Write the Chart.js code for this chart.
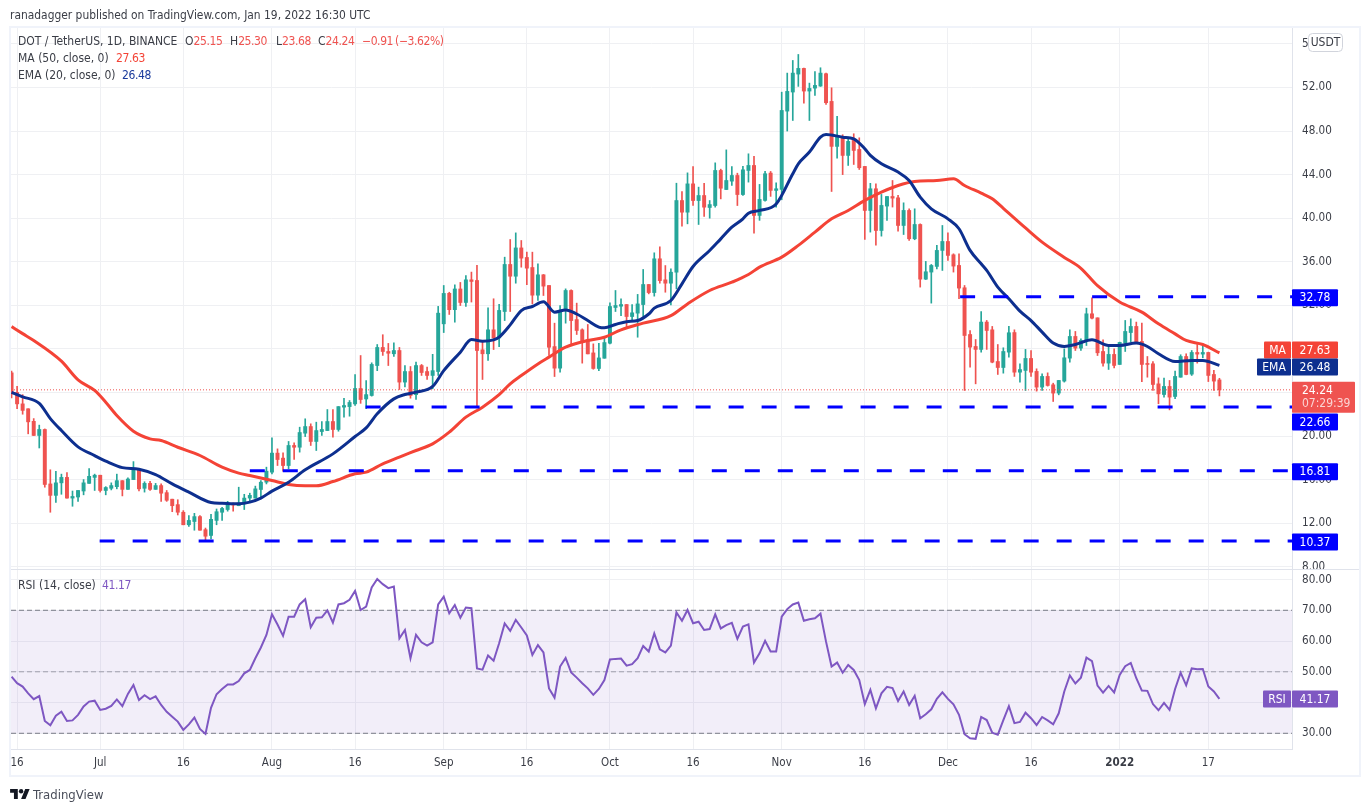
<!DOCTYPE html>
<html>
<head>
<meta charset="utf-8">
<title>DOT / TetherUS</title>
<script src="https://cdn.jsdelivr.net/npm/chart.js@4/dist/chart.umd.min.js"></script>
<style>
    html, body { margin: 0; padding: 0; background: #fff; }
    body { width: 1370px; height: 812px; position: relative; overflow: hidden; }
    body, .txt { font-family: "DejaVu Sans Condensed", "DejaVu Sans", sans-serif; font-size: 12px; color: #3a3d46; }
    canvas { position: absolute; left: 0; top: 0; }
    #frame { position: absolute; left: 9px; top: 26px; width: 1348px; height: 747px; border: 2px solid #f0f3fa; }
    .txt { position: absolute; white-space: nowrap; line-height: 16px; }
    .red { color: #ef5350; }
    .num { font-size: 12px; letter-spacing: -0.4px; }
    #logo { position: absolute; left: 10px; top: 789px; }
</style>
</head>
<body>
<div id="frame"></div>
<canvas id="chart" width="1370" height="812"></canvas>

<div class="txt" style="left:10px;top:7px;font-size:11.9px">ranadagger published on TradingView.com, Jan 19, 2022 16:30 UTC</div>
<div class="txt" style="left:18px;top:33px">DOT / TetherUS, 1D, BINANCE</div>
<div class="txt" style="left:185px;top:33px">O<span class="red num">25.15</span></div>
<div class="txt" style="left:230px;top:33px">H<span class="red num">25.30</span></div>
<div class="txt" style="left:276px;top:33px">L<span class="red num">23.68</span></div>
<div class="txt" style="left:318px;top:33px">C<span class="red num">24.24</span></div>
<div class="txt red num" style="left:362px;top:33px;word-spacing:-1px">−0.91 (−3.62%)</div>
<div class="txt" style="left:18px;top:50px">MA (50, close, 0)</div>
<div class="txt num" style="left:116px;top:50px;color:#f44336">27.63</div>
<div class="txt" style="left:18px;top:67px">EMA (20, close, 0)</div>
<div class="txt num" style="left:122px;top:67px;color:#1a3a9c">26.48</div>
<div class="txt" style="left:18px;top:577px">RSI (14, close)</div>
<div class="txt num" style="left:102px;top:577px;color:#7e57c2">41.17</div>

<svg id="logo" width="20" height="11" viewBox="0 0 36 20"><path d="M14 18H7V7H0V0h14v18zM28 18h-8l7.5-18h8L28 18z" fill="#131722"/><circle cx="20" cy="4" r="4" fill="#131722"/></svg>
<div class="txt" style="left:33px;top:787px;font-size:13px;color:#4a4e5a">TradingView</div>

<script>
// Candles, one per day from Jun 15 2021 to Jan 19 2022
const opens = [
    25.8,24.0,22.95,22.5,21.35,20.05,20.6,15.6,14.55,15.7,
    16.2,14.3,14.4,14.95,15.65,16.2,16.4,15.0,15.2,15.35,
    15.9,15.1,16.0,16.85,15.2,15.65,15.1,15.45,14.8,14.2,
    13.7,13.0,11.85,12.15,12.6,11.4,10.87,12.25,13.0,13.25,
    13.78,13.6,13.77,14.3,14.3,15.09,15.76,16.68,18.43,17.97,
    17.29,19.13,18.97,20.26,20.87,19.5,20.41,20.5,21.33,20.6,
    22.65,22.7,22.95,24.36,23.4,23.72,26.47,28.13,27.76,27.55,
    27.85,24.95,25.92,23.8,26.47,25.92,25.56,25.92,30.3,33.1,
    31.6,33.5,32.26,34.34,34.28,27.91,27.55,29.75,29.0,31.43,
    35.75,34.67,37.27,36.39,35.47,32.93,34.8,33.82,28.21,26.23,
    31.52,33.36,30.69,29.75,28.83,27.63,26.2,27.14,28.52,31.8,
    31.92,32.07,30.97,31.28,32.07,33.91,33.17,36.27,34.34,34.03,
    35.04,41.62,40.55,43.15,41.62,42.08,40.98,41.16,44.38,42.63,
    43.4,43.92,42.17,44.38,44.84,40.25,41.63,44.14,42.55,42.64,
    49.83,51.58,53.23,53.75,51.67,51.94,52.13,53.26,50.72,46.59,
    47.44,45.76,47.14,46.31,44.75,40.71,42.7,38.87,41.11,41.99,
    41.87,39.33,40.71,38.11,39.42,34.4,35.05,35.57,37.04,37.86,
    36.64,35.66,33.61,29.32,28.22,27.95,30.46,29.75,26.84,26.29,
    27.7,29.5,25.86,26.02,27.12,25.93,24.49,25.47,24.7,23.94,
    25.04,27.15,29.14,28.07,28.71,31.22,30.85,27.76,26.69,27.49,
    26.57,28.53,29.5,30.06,28.68,26.63,26.63,24.79,23.81,24.55,
    23.63,25.4,27.3,25.68,27.67,27.52,27.67,25.65,25.15
];
const closes = [
    23.87,22.95,22.35,21.3,20.05,20.6,15.55,14.55,15.7,16.2,
    14.3,14.45,15.0,15.7,16.3,16.4,15.0,15.27,15.45,15.9,
    15.1,16.05,16.9,15.15,15.65,15.1,15.45,14.75,14.1,13.6,
    13.0,11.85,12.25,12.6,11.35,10.8,12.35,13.05,13.35,13.7,
    13.67,13.85,14.3,14.55,15.15,15.76,16.77,18.43,17.84,17.29,
    19.13,18.97,20.32,20.87,19.5,20.5,20.6,21.33,20.6,22.7,
    22.8,23.08,24.36,23.35,23.8,26.57,28.13,27.76,27.6,27.85,
    24.95,25.92,23.72,26.47,25.83,25.56,26.0,31.28,33.09,31.6,
    33.5,32.26,34.34,34.19,27.85,27.55,29.75,29.0,31.53,35.75,
    34.67,37.27,36.33,35.41,32.93,34.8,33.76,28.15,26.23,31.52,
    33.36,30.6,29.69,28.61,27.54,26.2,27.17,28.58,31.89,31.98,
    32.07,30.97,31.31,32.13,33.91,33.17,36.27,34.27,34.03,35.04,
    41.62,40.55,43.15,41.62,42.08,41.01,41.25,44.38,42.75,43.46,
    43.92,42.17,44.44,44.84,40.25,41.72,44.08,42.55,42.7,49.89,
    51.64,53.32,53.75,51.67,51.91,52.19,53.32,50.6,46.59,47.6,
    45.76,47.05,46.22,44.63,40.71,42.7,38.87,41.17,41.99,41.84,
    39.33,40.71,38.11,39.42,34.4,35.08,35.66,37.04,37.86,36.58,
    35.6,33.58,29.23,28.16,27.95,30.46,29.69,26.78,26.29,27.76,
    29.48,25.86,26.1,27.12,25.86,24.49,25.47,24.64,23.94,25.1,
    27.18,29.14,28.07,28.77,31.22,30.82,27.64,26.69,27.49,26.48,
    28.59,29.6,30.06,28.62,26.57,26.57,24.73,23.87,24.55,23.57,
    25.47,27.3,25.65,27.67,27.52,27.67,25.56,25.04,24.24
];
const highs = [
    25.95,24.55,23.8,22.5,21.6,21.0,20.65,16.9,16.75,16.5,
    16.65,14.95,15.0,16.0,17.0,16.5,16.4,15.35,15.7,16.5,
    15.9,16.15,17.65,16.9,15.8,15.85,15.65,15.6,15.0,14.2,
    14.15,13.15,12.7,12.9,12.7,11.55,12.8,13.3,13.45,14.0,
    13.85,15.3,14.65,14.75,15.4,15.9,17.14,19.83,18.82,18.45,
    19.5,19.37,20.81,21.58,21.12,21.27,21.33,22.43,22.43,22.7,
    23.47,23.26,25.65,27.39,25.1,26.72,28.4,29.3,28.5,28.56,
    28.13,26.47,26.38,26.78,26.57,26.32,27.5,31.9,33.82,33.2,
    33.88,34.1,34.74,35.05,35.66,28.77,31.77,32.6,32.08,36.42,
    38.04,38.65,37.95,36.88,36.88,35.81,34.83,33.82,30.36,31.98,
    33.51,33.42,32.2,29.84,30.24,28.46,28.52,29.07,32.22,33.36,
    32.6,32.07,32.07,33.0,35.29,33.91,36.82,37.37,35.65,35.35,
    43.21,42.45,44.16,44.74,42.85,43.21,41.62,45.08,44.5,46.27,
    44.74,44.13,44.75,45.91,45.67,43.1,44.29,44.29,43.25,51.57,
    53.32,54.48,55.03,53.78,52.4,53.47,53.81,53.32,51.97,49.34,
    47.66,47.44,47.75,47.38,44.75,43.2,43.16,42.18,41.99,43.46,
    42.09,41.41,40.86,40.86,39.48,36.03,35.75,37.5,39.33,38.66,
    36.73,36.73,33.82,29.69,28.86,31.43,30.61,30.06,28.4,28.1,
    30.06,29.75,26.63,27.95,27.85,26.17,25.71,25.8,24.85,25.1,
    28.0,29.75,29.6,28.92,31.74,32.69,30.85,28.83,28.4,28.0,
    28.62,30.61,30.76,30.46,30.36,27.3,26.84,25.34,25.31,25.1,
    25.96,27.46,27.55,27.85,28.4,28.4,27.7,26.02,25.3
];
const lows = [
    23.5,22.5,22.0,20.2,20.05,18.9,15.3,13.0,13.9,14.65,
    14.3,13.55,14.0,14.6,15.65,15.0,14.85,14.6,15.05,15.15,
    14.5,15.1,16.0,14.95,14.85,15.0,15.1,14.0,14.0,13.05,
    12.75,11.85,11.7,11.35,11.35,10.37,10.55,11.85,12.25,13.1,
    13.1,13.6,13.25,13.95,14.3,14.4,15.6,16.53,17.29,16.77,
    16.99,17.84,18.52,19.95,19.13,18.67,20.05,20.5,19.9,20.44,
    21.73,21.82,22.8,23.0,22.5,23.66,26.0,27.4,26.47,27.3,
    24.27,24.5,23.47,23.35,25.56,25.19,24.33,25.56,29.5,31.16,
    30.45,31.98,31.9,32.3,22.59,25.19,26.93,27.94,28.2,30.6,
    31.43,34.03,35.5,33.9,32.13,32.44,32.9,27.39,25.46,25.86,
    30.36,28.3,29.32,26.69,27.54,26.13,26.01,27.14,28.46,31.43,
    31.06,29.99,30.66,29.07,30.97,33.05,32.84,34.03,33.2,32.04,
    33.51,39.27,39.48,41.16,39.42,40.15,40.0,41.01,41.77,42.63,
    43.0,41.16,42.09,43.31,38.63,39.8,41.57,42.0,41.02,41.69,
    48.0,48.97,52.1,50.57,48.97,51.27,52.1,50.44,42.45,45.51,
    44.0,44.84,44.93,44.47,38.05,38.72,37.53,38.35,39.79,41.02,
    38.81,38.5,37.95,38.02,33.67,34.37,32.2,35.35,35.2,36.12,
    35.05,32.6,24.18,26.32,24.79,27.7,27.95,26.72,25.65,25.77,
    27.24,25.47,24.95,24.18,25.47,24.12,24.18,24.58,23.17,23.78,
    24.95,26.78,27.85,27.85,28.31,30.76,27.39,26.42,26.11,26.26,
    26.57,27.76,28.62,28.53,25.0,25.4,24.18,22.96,23.57,22.4,
    23.42,25.4,25.62,25.56,26.69,27.18,25.0,24.18,23.68
];

// Moving averages, read at the day indexes next to them
const maDays = [0,2,4,9,12,15,17,19,22,25,27,30,34,38,41,43,47,50,53,55,58,62,64,67,70,73,76,79,82,85,88,90,92,95,97,100,104,107,110,114,119,122,126,130,133,135,139,142,145,148,151,154,157,160,163,167,170,172,175,177,179,183,186,190,193,196,200,204,207,210,212,215,218];
const maValues = [30.05,29.4,28.77,26.87,25.16,24.18,23.1,21.88,20.44,19.74,19.59,18.97,18.21,17.14,16.59,16.37,15.91,15.55,15.43,15.43,15.82,16.53,16.68,17.44,18.06,18.67,19.28,20.35,21.73,22.65,23.8,24.79,25.55,26.62,27.24,28.15,28.77,29.07,29.75,30.36,31.06,32.13,33.36,34.12,34.83,35.5,36.42,37.5,38.72,39.94,40.71,41.63,42.39,43.0,43.37,43.46,43.62,43.0,42.3,41.78,40.9,39.1,37.8,36.4,35.4,33.8,32.3,31.37,30.3,29.38,28.77,28.4,27.63];
const emaDays = [0,2,5,7,9,12,15,17,20,23,26,29,32,36,38,41,43,45,47,50,53,58,62,64,66,69,71,73,76,78,81,83,85,87,88,90,92,94,96,98,100,102,104,106,107,109,111,113,115,116,119,121,123,126,128,130,132,133,135,138,141,142,144,146,147,150,152,154,155,157,160,162,164,166,169,171,173,175,176,178,180,182,184,186,188,190,192,195,198,200,203,205,207,210,213,215,218];
const emaValues = [24.0,23.6,23.0,21.6,20.5,19.0,18.2,17.7,17.1,16.95,16.45,15.6,14.85,13.9,13.83,13.77,13.93,14.3,14.94,15.76,16.9,18.36,19.95,20.75,22.04,23.41,23.81,24.03,24.55,26.0,27.7,28.86,28.7,28.83,29.08,30.2,31.52,31.89,32.32,31.37,31.58,31.2,30.6,30.0,29.93,30.24,30.5,30.6,31.2,31.74,32.44,33.97,35.56,37.03,38.1,39.17,39.94,40.46,40.71,41.3,44.08,44.99,46.07,47.44,47.69,47.44,47.29,46.37,45.76,44.99,44.23,43.46,41.93,40.86,39.94,39.03,37.04,35.81,35.2,33.67,32.6,31.47,30.6,29.54,28.53,28.22,28.4,28.83,28.31,28.31,28.53,28.22,27.55,26.84,26.94,26.94,26.48];

// RSI (14, close), one value per day
const rsiValues = [
    48.4,46.3,45.2,43.0,41.1,42.1,34.0,32.6,35.7,37.0,
    34.0,34.2,36.0,38.7,40.3,40.6,37.6,38.0,38.9,41.0,
    38.8,42.8,45.7,40.8,42.4,41.1,42.0,39.2,37.0,35.4,
    33.8,31.1,32.9,35.1,31.4,29.8,38.3,42.7,44.4,45.9,
    45.9,47.0,49.5,50.6,54.4,57.9,62.0,68.7,65.4,61.7,
    67.9,67.9,71.9,73.6,64.5,67.6,67.7,70.0,66.0,71.9,
    72.3,73.4,76.3,70.1,71.2,77.4,80.2,78.5,77.2,77.7,
    60.9,63.6,54.4,62.0,59.6,58.5,59.6,71.9,74.4,69.0,
    71.7,67.6,70.9,70.7,51.1,50.7,55.3,53.6,59.3,65.7,
    63.3,66.9,64.4,61.8,55.5,58.7,56.3,44.6,41.6,51.7,
    54.5,49.8,48.1,46.3,44.6,42.5,44.4,47.3,54.0,54.2,
    54.3,52.0,52.5,54.4,58.4,56.6,62.5,57.3,56.3,58.5,
    69.3,66.6,70.1,65.8,66.3,63.6,63.9,68.7,64.1,65.2,
    65.9,60.7,64.7,65.4,53.0,56.0,60.1,56.6,56.6,67.9,
    70.4,71.9,72.5,66.6,67.1,67.4,68.9,59.8,51.7,53.0,
    49.7,52.2,50.6,47.3,39.5,44.1,38.1,43.0,45.1,44.7,
    40.5,43.6,39.2,42.2,34.9,36.2,37.8,41.2,43.3,41.2,
    39.4,36.0,29.7,28.4,28.2,35.3,34.3,30.2,29.5,34.3,
    38.8,33.3,33.7,36.7,34.9,32.7,35.3,34.2,32.9,36.5,
    43.6,48.8,46.2,48.1,54.6,53.5,45.5,43.2,45.4,43.3,
    49.0,51.8,52.9,47.9,43.9,43.8,39.5,37.5,39.9,37.6,
    44.4,49.7,45.6,51.1,50.8,50.9,45.2,43.6,41.17
];

// Horizontal support and resistance levels, with the day each one starts on
const levelValues = [32.78, 22.66, 16.81, 10.37];
const levelStarts = [171.2, 63.9, 43, 15.9];

// Axes
const tickDays = [1,16,31,47,62,78,93,108,123,139,154,169,184,200,216];
const tickLabels = ['16','Jul','16','Aug','16','Sep','16','Oct','16','Nov','16','Dec','16','2022','17'];
const priceTicks = [8,12,16,20,24,28,32,36,40,44,48,52,56];
const rsiTicks = [30,40,50,60,70,80];
const rsiGuides = [70, 50, 30];

const lastPrice = 24.24;
const lastMa = 27.63;
const lastEma = 26.48;
const lastRsi = 41.17;

const UP = '#26a69a';
const DOWN = '#ef5350';
const MA_COLOR = '#f44336';
const EMA_COLOR = '#0d2f8f';
const RSI_COLOR = '#7e57c2';
const GRID_COLOR = '#eff0f3';
const FONT = '"DejaVu Sans Condensed", "DejaVu Sans", sans-serif';
const X_MIN = -0.1;
const X_MAX = 231.1;

Chart.defaults.font.family = FONT;
Chart.defaults.font.size = 11.6;
Chart.defaults.color = '#3a3d46';

const candleColors = closes.map((c, i) => c >= opens[i] ? UP : DOWN);

function horizontal(value, from) {
    return [{x: from, y: value}, {x: X_MAX, y: value}];
}

// Shaded RSI zone and the line between the two panes
const panelPlugin = {
    id: 'panel',
    beforeDatasetsDraw(chart) {
        const {ctx, scales: {x, y, yRsi}} = chart;
        const top = yRsi.getPixelForValue(70);
        const bottom = yRsi.getPixelForValue(30);
        ctx.save();
        ctx.fillStyle = 'rgba(126, 87, 194, 0.1)';
        ctx.fillRect(x.left, top, x.right - x.left, bottom - top);
        ctx.strokeStyle = '#e0e3eb';
        ctx.lineWidth = 1;
        ctx.beginPath();
        ctx.moveTo(x.left, yRsi.top + 0.5);
        ctx.lineTo(y.right, yRsi.top + 0.5);
        ctx.stroke();
        ctx.restore();
    }
};

function drawTag(ctx, text, left, width, centerY, color) {
    ctx.fillStyle = color;
    ctx.beginPath();
    ctx.roundRect(left, centerY - 8.5, width, 17, 1);
    ctx.fill();
    ctx.fillStyle = '#fff';
    ctx.textBaseline = 'middle';
    ctx.textAlign = 'center';
    ctx.fillText(text, left + width / 2, centerY + 0.5);
}

// Price tags over the right axis
const tagsPlugin = {
    id: 'tags',
    afterDraw(chart) {
        const {ctx, scales: {y, yRsi}} = chart;
        const axis = y.left;
        ctx.save();
        ctx.font = '12px ' + FONT;

        levelValues.forEach(v => {
            const shift = v === 22.66 ? 15 : 1;
            drawTag(ctx, v.toFixed(2), axis, 46, y.getPixelForValue(v) + shift, '#0000ff');
        });

        const maY = y.getPixelForValue(lastMa) - 3;
        drawTag(ctx, 'MA', axis - 28, 27, maY, MA_COLOR);
        drawTag(ctx, lastMa.toFixed(2), axis, 46, maY, MA_COLOR);

        const emaY = y.getPixelForValue(lastEma) + 1.5;
        drawTag(ctx, 'EMA', axis - 35, 34, emaY, EMA_COLOR);
        drawTag(ctx, lastEma.toFixed(2), axis, 46, emaY, EMA_COLOR);

        const priceY = y.getPixelForValue(lastPrice);
        ctx.fillStyle = DOWN;
        ctx.beginPath();
        ctx.roundRect(axis, priceY - 8, 63, 31, 1);
        ctx.fill();
        ctx.textAlign = 'left';
        ctx.textBaseline = 'middle';
        ctx.fillStyle = '#fff';
        ctx.fillText(lastPrice.toFixed(2), axis + 10, priceY + 1);
        ctx.fillStyle = 'rgba(255, 255, 255, 0.75)';
        ctx.fillText('07:29:39', axis + 10, priceY + 14);

        const rsiY = yRsi.getPixelForValue(lastRsi);
        drawTag(ctx, 'RSI', axis - 29, 28, rsiY, RSI_COLOR);
        drawTag(ctx, lastRsi.toFixed(2), axis, 46, rsiY, RSI_COLOR);

        // Currency button
        ctx.fillStyle = '#fff';
        ctx.strokeStyle = '#d1d4dc';
        ctx.beginPath();
        ctx.roundRect(axis + 16.5, 33.5, 34, 18, 4);
        ctx.fill();
        ctx.stroke();
        ctx.fillStyle = '#3a3d46';
        ctx.textAlign = 'center';
        ctx.fillText('USDT', axis + 33.5, 43);
        ctx.restore();
    }
};

const datasets = [
    {
        type: 'bar', label: 'Wick', yAxisID: 'y', order: 5, grouped: false,
        data: highs.map((h, i) => ({x: i, y: [lows[i], h]})),
        backgroundColor: candleColors, barThickness: 1, minBarLength: 1
    },
    {
        type: 'bar', label: 'Body', yAxisID: 'y', order: 4, grouped: false,
        data: opens.map((o, i) => ({x: i, y: [o, closes[i]]})),
        backgroundColor: candleColors, barThickness: 3.3, minBarLength: 1
    },
    {
        type: 'line', label: 'Last price', yAxisID: 'y', order: 3,
        data: horizontal(lastPrice, X_MIN),
        borderColor: DOWN, borderWidth: 1, borderDash: [1, 2], pointRadius: 0
    },
    {
        type: 'line', label: 'EMA', yAxisID: 'y', order: 2,
        data: emaDays.map((d, i) => ({x: d, y: emaValues[i]})),
        borderColor: EMA_COLOR, borderWidth: 3, pointRadius: 0, cubicInterpolationMode: 'monotone'
    },
    {
        type: 'line', label: 'MA', yAxisID: 'y', order: 2,
        data: maDays.map((d, i) => ({x: d, y: maValues[i]})),
        borderColor: MA_COLOR, borderWidth: 3, pointRadius: 0, cubicInterpolationMode: 'monotone'
    },
    {
        type: 'line', label: 'RSI', yAxisID: 'yRsi', order: 1,
        data: rsiValues.map((v, i) => ({x: i, y: v})),
        borderColor: RSI_COLOR, borderWidth: 2, pointRadius: 0
    }
];

levelValues.forEach((v, i) => {
    datasets.push({
        type: 'line', label: 'Level ' + v, yAxisID: 'y', order: 0,
        data: horizontal(v, levelStarts[i]),
        borderColor: '#0000ff', borderWidth: 3, borderDash: [15, 18], pointRadius: 0
    });
});

rsiGuides.forEach(v => {
    datasets.push({
        type: 'line', label: 'Guide ' + v, yAxisID: 'yRsi', order: 6,
        data: horizontal(v, X_MIN),
        borderColor: v === 50 ? 'rgba(120, 123, 134, 0.65)' : '#787b86',
        borderWidth: 1, borderDash: [5, 3], pointRadius: 0
    });
});

new Chart(document.getElementById('chart'), {
    data: {datasets},
    options: {
        responsive: false,
        animation: false,
        devicePixelRatio: 1,
        layout: {padding: {left: 11, top: 28, right: 11, bottom: 36}},
        plugins: {legend: {display: false}, tooltip: {enabled: false}},
        scales: {
            x: {
                type: 'linear', position: 'bottom', min: X_MIN, max: X_MAX, offset: false,
                afterBuildTicks: s => { s.ticks = tickDays.map(v => ({value: v})); },
                afterFit: s => { s.height = 27; },
                grid: {color: GRID_COLOR, drawTicks: false, offset: false},
                border: {display: true, color: '#e0e3eb'},
                ticks: {
                    autoSkip: false, maxRotation: 0, padding: 7,
                    callback: (v, i) => tickLabels[i],
                    font: c => (c.tick && c.tick.value === 200) ? {weight: 'bold', size: 11.5} : {size: 11.5}
                }
            },
            y: {
                type: 'linear', position: 'right', stack: 'panes', stackWeight: 541,
                min: 7.79, max: 57.46,
                afterBuildTicks: s => { s.ticks = priceTicks.map(v => ({value: v})); },
                afterFit: s => { s.width = 67; },
                grid: {color: GRID_COLOR, drawTicks: false},
                border: {display: true, color: '#e0e3eb'},
                ticks: {padding: 10, autoSkip: false, callback: v => v.toFixed(2)}
            },
            yRsi: {
                type: 'linear', position: 'right', stack: 'panes', stackWeight: 180,
                min: 24.89, max: 83.43,
                afterBuildTicks: s => { s.ticks = rsiTicks.map(v => ({value: v})); },
                afterFit: s => { s.width = 67; },
                grid: {color: GRID_COLOR, drawTicks: false},
                border: {display: true, color: '#e0e3eb'},
                ticks: {padding: 10, autoSkip: false, callback: v => v.toFixed(2)}
            }
        }
    },
    plugins: [panelPlugin, tagsPlugin]
});
</script>
</body>
</html>
